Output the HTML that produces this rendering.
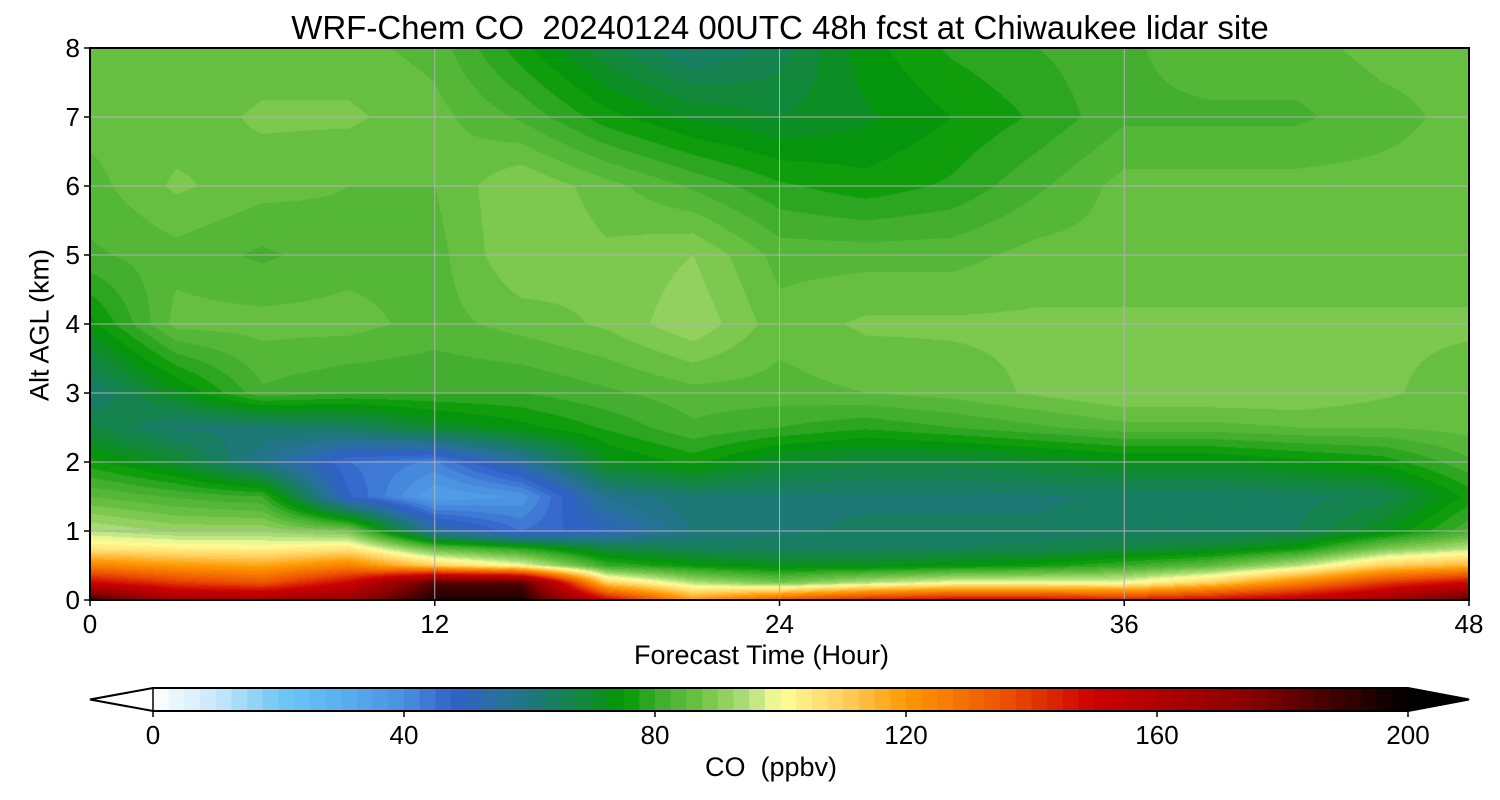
<!DOCTYPE html>
<html><head><meta charset="utf-8">
<style>
body{margin:0;background:#fff;width:1500px;height:800px;overflow:hidden;font-family:"Liberation Sans","DejaVu Sans",sans-serif;}
#wrap{position:relative;width:1500px;height:800px;}
.t{position:absolute;color:#000;white-space:nowrap;}
</style></head>
<body>
<div id="wrap">
<div class="t" style="left:0;width:1560px;text-align:center;top:9px;font-size:33px;">WRF-Chem CO&nbsp; 20240124 00UTC 48h fcst at Chiwaukee lidar site</div>
<canvas id="cv" width="1379" height="552" style="position:absolute;left:90px;top:48px;"></canvas>
<svg id="ov" width="1500" height="800" style="position:absolute;left:0;top:0;"></svg>
<div class="t" style="left:634px;top:640px;font-size:27px;">Forecast Time (Hour)</div>
<div class="t" style="left:40px;top:325px;font-size:27px;transform:translate(-50%,-50%) rotate(-90deg);">Alt AGL (km)</div>
<div class="t" style="left:705px;top:752px;font-size:27px;">CO&nbsp; (ppbv)</div>
</div>
<script>
const times=[0,3,6,9,12,15,18,21,24,27,30,33,36,39,42,45,48];
const alts=[0,0.25,0.5,0.75,1,1.5,2,2.5,3,4,5,6,7,8];
const coValues=[
[190,150,125,105,95,85,76,68,62,74,82,84,86,86],
[165,140,120,103,92,82,70,62,72,86,84,88,86,85],
[165,135,118,102,92,80,58,62,82,86,82,86,88,86],
[170,150,125,105,88,48,45,64,80,86,84,85,88,86],
[195,185,110,85,55,35,42,70,80,84,84,85,86,84],
[195,185,100,78,45,38,55,74,80,86,90,90,82,76],
[150,110,80,68,50,58,72,78,82,88,88,86,76,68],
[120,95,75,65,60,62,76,82,84,92,90,82,72,62],
[135,88,72,64,62,62,70,80,84,86,84,78,70,66],
[145,95,72,64,63,62,68,78,85,88,84,76,72,74],
[150,100,74,65,63,62,68,80,86,88,84,78,75,78],
[150,100,76,66,63,62,70,82,88,88,86,82,78,80],
[145,100,80,68,64,63,72,84,90,88,86,86,82,82],
[150,110,85,70,64,63,72,84,90,88,86,86,82,84],
[155,125,95,75,65,64,74,85,90,88,86,86,82,84],
[165,140,110,88,72,66,76,85,88,88,86,86,84,86],
[185,150,115,95,82,76,82,86,86,88,86,86,86,86]];
const xTicks=[0,12,24,36,48];
const yTicks=[0,1,2,3,4,5,6,7,8];
const cbTicks=[0,40,80,120,160,200];
const stops=[[0,'ffffff'],[10,'c8e8fa'],[20,'70c8f5'],[30,'5ab0f0'],[40,'4a90e0'],[48,'3060c8'],[55,'2a70a0'],[62,'1a7a70'],[70,'108a30'],[75,'009900'],[80,'3aaa2a'],[85,'5cbb3c'],[90,'88cc55'],[95,'b0e080'],[100,'ffff99'],[110,'ffd060'],[120,'ff9900'],[135,'ee5500'],[150,'cc0000'],[175,'880000'],[200,'000000']];
const X0=90,X1=1469,Y0=600,Y1=48;
const xs=t=>X0+(t-0)/48*(X1-X0);
const ys=a=>Y0-(a/8)*(Y0-Y1);
const cbx=v=>153+v/200*(1408-153);
function hex(h){return [parseInt(h.slice(0,2),16),parseInt(h.slice(2,4),16),parseInt(h.slice(4,6),16)];}
function cmap(v){v=Math.max(0,Math.min(200,v));for(let i=1;i<stops.length;i++){if(v<=stops[i][0]){const a=stops[i-1],b=stops[i];const f=(v-a[0])/(b[0]-a[0]);const c1=hex(a[1]),c2=hex(b[1]);return c1.map((c,k)=>Math.round(c+(c2[k]-c)*f));}}return [0,0,0];}
function idx(arr,v){for(let i=0;i<arr.length-1;i++){if(v<=arr[i+1])return [i,(v-arr[i])/(arr[i+1]-arr[i])];}return [arr.length-2,1];}
const cv=document.getElementById('cv');const ctx=cv.getContext('2d');
const W=cv.width,H=cv.height;const img=ctx.createImageData(W,H);
for(let py=0;py<H;py++){const a=(Y0-(Y1+py+0.5))/(Y0-Y1)*8;const [j,fy]=idx(alts,a);
for(let px=0;px<W;px++){const t=(px+0.5)/W*48;const [i,fx]=idx(times,t);
const v=coValues[i][j]*(1-fx)*(1-fy)+coValues[i+1][j]*fx*(1-fy)+coValues[i][j+1]*(1-fx)*fy+coValues[i+1][j+1]*fx*fy;
const q=Math.floor(v/2.5)*2.5+1.25;const c=cmap(q);const o=(py*W+px)*4;img.data[o]=c[0];img.data[o+1]=c[1];img.data[o+2]=c[2];img.data[o+3]=255;}}
ctx.putImageData(img,0,0);
const ov=document.getElementById('ov');const NS='http://www.w3.org/2000/svg';
function el(tag,at,txt){const e=document.createElementNS(NS,tag);for(const k in at)e.setAttribute(k,at[k]);if(txt!==undefined)e.textContent=txt;ov.appendChild(e);return e;}
xTicks.forEach(t=>{const g=el('line',{x1:xs(t),x2:xs(t),y1:Y1,y2:Y0,stroke:'#b0b0b0','stroke-width':1});


el('line',{x1:xs(t),x2:xs(t),y1:Y0,y2:Y0+6,stroke:'#000','stroke-width':1.5});
const l=el('text',{x:xs(t),y:633,'font-size':26,'text-anchor':'middle','font-family':'Liberation Sans, sans-serif'},t);

});
yTicks.forEach(a=>{const g=el('line',{x1:X0,x2:X1,y1:ys(a),y2:ys(a),stroke:'#b0b0b0','stroke-width':1});


el('line',{x1:X0-6,x2:X0,y1:ys(a),y2:ys(a),stroke:'#000','stroke-width':1.5});
const l=el('text',{x:X0-10,y:ys(a)+9,'font-size':26,'text-anchor':'end','font-family':'Liberation Sans, sans-serif'},a);

});
el('rect',{x:X0,y:Y1,width:X1-X0,height:Y0-Y1,fill:'none',stroke:'#000','stroke-width':2});
for(let v=0;v<200;v+=2.5){const c=cmap(v+1.25);const r=el('rect',{x:cbx(v),y:688,width:cbx(v+2.5)-cbx(v)+0.5,height:23,fill:'rgb('+c.join(',')+')'});

}
const lt=el('polygon',{points:`90,699.5 153,688 153,711`,fill:'#fff',stroke:'#000','stroke-width':1.5});


const rt=el('polygon',{points:`1408,688 1469,699.5 1408,711`,fill:'#000',stroke:'#000','stroke-width':1.5});


el('polygon',{points:`90,699.5 153,688 1408,688 1469,699.5 1408,711 153,711`,fill:'none',stroke:'#000','stroke-width':2});
cbTicks.forEach(v=>{el('line',{x1:cbx(v),x2:cbx(v),y1:711,y2:717,stroke:'#000','stroke-width':1.5});
const l=el('text',{x:cbx(v),y:744,'font-size':26,'text-anchor':'middle','font-family':'Liberation Sans, sans-serif'},v);

});
</script>
</body></html>
